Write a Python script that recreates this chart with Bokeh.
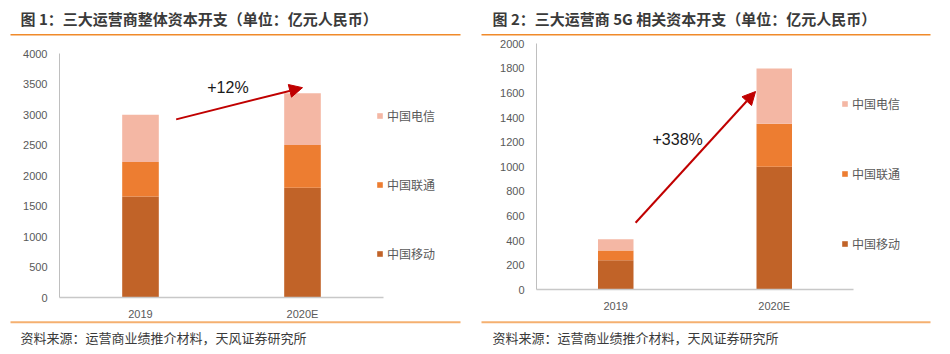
from bokeh.plotting import figure
from bokeh.layouts import row
from bokeh.models import (Range1d, FixedTicker, Label, BoxAnnotation, Arrow, NormalHead,
                          Legend, LegendItem, LinearAxis)
from bokeh.embed import file_html
from bokeh.resources import INLINE

# ---------------- data ----------------
categories = ["2019", "2020E"]
series_names = ["中国移动", "中国联通", "中国电信"]

total_mobile = [1656, 1798]
total_unicom = [564, 700]
total_telecom = [776, 850]

g5_mobile = [240, 1000]
g5_unicom = [80, 350]
g5_telecom = [90, 450]

ticks1 = [0, 500, 1000, 1500, 2000, 2500, 3000, 3500, 4000]
ticks2 = [0, 200, 400, 600, 800, 1000, 1200, 1400, 1600, 1800, 2000]

title1 = "图 1：三大运营商整体资本开支（单位：亿元人民币）"
title2 = "图 2：三大运营商 5G 相关资本开支（单位：亿元人民币）"
source_text = "资料来源：运营商业绩推介材料，天风证券研究所"
growth1 = "+12%"
growth2 = "+338%"

colors = ["#C16328", "#ED7D31", "#F4B7A4"]
CJK = "Noto Sans CJK SC"
W, H = 475, 354


def make_chart(mobile, unicom, telecom, ticks, title, growth, axis_px, bar_w,
               arrow_pts, growth_pos, legend_px, legend_spacing, title_x, rule_x):
    # axis_px: canvas pixel anchors (x at category 0, x at end, y at tick0, y at last tick)
    ax0, ax1, ay0, ay1 = axis_px
    ncat = len(categories)
    ppx = (ax1 - ax0) / ncat
    ppy = (ay0 - ay1) / (ticks[-1] - ticks[0])
    x_range = Range1d(-ax0 / ppx, ncat + (W - ax1) / ppx)
    y_range = Range1d(ticks[0] - (H - ay0) / ppy, ticks[-1] + ay1 / ppy)

    def dx(cx):
        return (cx - ax0) / ppx

    def dy(cy):
        return ticks[0] + (ay0 - cy) / ppy

    p = figure(width=W, height=H, output_backend="svg", toolbar_location=None,
               x_range=x_range, y_range=y_range, title_location=None,
               x_axis_location=None, y_axis_location=None,
               min_border_left=0, min_border_right=0, min_border_top=0, min_border_bottom=0)
    p.outline_line_color = None
    p.xgrid.visible = False
    p.ygrid.visible = False
    p.background_fill_color = "white"
    p.border_fill_color = "white"

    xs = [i + 0.5 for i in range(ncat)]
    data = dict(x=xs, mobile=mobile, unicom=unicom, telecom=telecom)
    rs = p.vbar_stack(["mobile", "unicom", "telecom"], x="x", width=bar_w, source=data,
                      color=colors, line_color=None)

    # axes fixed at data coordinates
    yax = LinearAxis(fixed_location=0, bounds=(ticks[0], ticks[-1]),
                     ticker=FixedTicker(ticks=ticks))
    xax = LinearAxis(fixed_location=ticks[0], bounds=(0, ncat),
                     ticker=FixedTicker(ticks=xs),
                     major_label_overrides={x: c for x, c in zip(xs, categories)})
    for ax in (xax, yax):
        ax.axis_line_color = "#BFBFBF"
        ax.axis_line_width = 1
        ax.major_tick_line_color = None
        ax.minor_tick_line_color = None
        ax.major_tick_out = 0
        ax.major_tick_in = 0
        ax.major_label_text_color = "#595959"
        ax.major_label_text_font = "Liberation Sans"
        ax.major_label_text_font_size = "11px"
    yax.major_label_standoff = 12
    xax.major_label_standoff = 10
    xax.axis_line_color = "#C8C8C8"
    xax.axis_line_width = 1.5
    p.add_layout(yax, "left")
    p.add_layout(xax, "below")

    # legend (location in px from bottom-left of frame = canvas)
    items = [LegendItem(label=n, renderers=[r]) for n, r in zip(series_names, rs)][::-1]
    leg = Legend(items=items, location=legend_px, spacing=legend_spacing,
                 glyph_width=7, glyph_height=7, label_standoff=4, padding=0, margin=0,
                 border_line_color=None, background_fill_alpha=0,
                 label_text_font=CJK, label_text_font_size="12px",
                 label_text_color="#595959", label_height=20)
    p.add_layout(leg, "center")

    # arrow + growth label
    (x0, y0), (x1, y1) = arrow_pts
    p.add_layout(Arrow(x_start=x0, y_start=y0, x_end=x1, y_end=y1,
                       line_color="#C00000", line_width=2,
                       end=NormalHead(size=13, fill_color="#C00000", line_color="#C00000")))
    p.add_layout(Label(x=growth_pos[0], y=growth_pos[1], text=growth,
                       text_font="Liberation Sans", text_font_size="16px",
                       text_color="#1A1A1A", text_baseline="middle", text_align="left"))

    # title, footer, rules
    p.add_layout(Label(x=dx(title_x), y=dy(18), text=title, text_font=CJK,
                       text_font_size="15px", text_font_style="bold", text_color="#3A3A3A",
                       text_baseline="middle", text_align="left"))
    p.add_layout(Label(x=dx(title_x), y=dy(337), text=source_text, text_font=CJK,
                       text_font_size="13px", text_color="#3A3A3A",
                       text_baseline="middle", text_align="left"))
    p.add_layout(BoxAnnotation(left=dx(rule_x[0]), right=dx(rule_x[1]),
                               top=dy(33.5), bottom=dy(35),
                               fill_color="#F08A2A", fill_alpha=1, line_color=None))
    p.add_layout(BoxAnnotation(left=dx(rule_x[0]), right=dx(rule_x[1]),
                               top=dy(320.7), bottom=dy(322.7),
                               fill_color="#F5B070", fill_alpha=1, line_color=None))
    return p


p1 = make_chart(total_mobile, total_unicom, total_telecom, ticks1, title1, growth1,
                axis_px=(59, 383, 297, 53), bar_w=0.226,
                arrow_pts=((0.72, 2920), (1.5, 3440)), growth_pos=(0.912, 3438),
                legend_px=(376, 91), legend_spacing=49, title_x=20, rule_x=(10, 460))
p2 = make_chart(g5_mobile, g5_unicom, g5_telecom, ticks2, title2, growth2,
                axis_px=(61, 378, 289.3, 43.3), bar_w=0.224,
                arrow_pts=((0.625, 545), (1.382, 1612)), growth_pos=(0.732, 1220),
                legend_px=(366, 101), legend_spacing=50, title_x=17, rule_x=(6, 455))

layout = row(p1, p2)
open("out.html", "w").write(file_html(layout, INLINE))
